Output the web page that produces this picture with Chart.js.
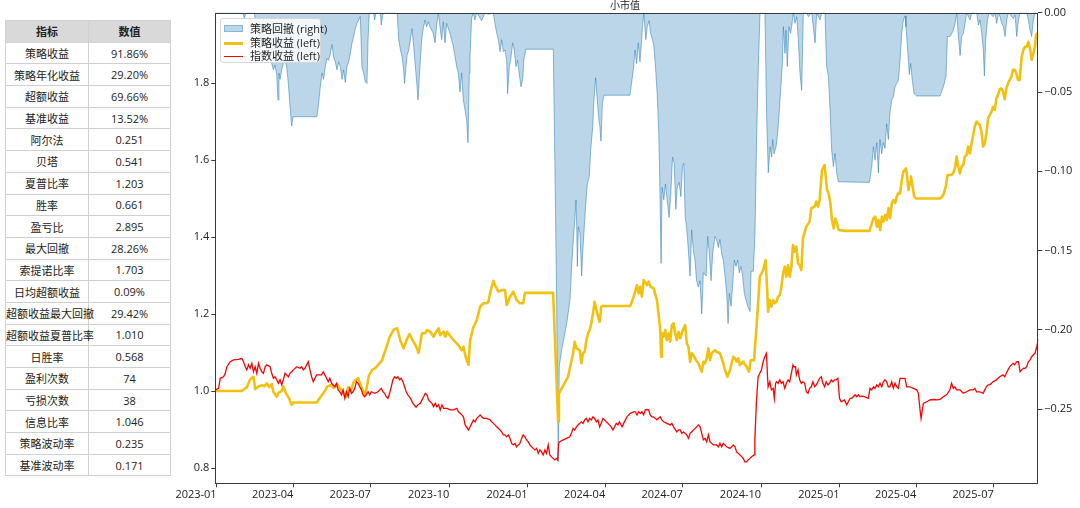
<!DOCTYPE html>
<html>
<head>
<meta charset="utf-8">
<script src="https://cdn.jsdelivr.net/npm/chart.js@4"></script>
<style>
  html, body { margin: 0; padding: 0; background: #fff; }
  body { width: 1080px; height: 508px; position: relative; overflow: hidden;
         font-family: "Open Sans", "Noto Sans CJK SC", sans-serif; color: #222; }
  #tbl { position: absolute; left: 5px; top: 20px; width: 165px; border-collapse: collapse;
         font-size: 11px; table-layout: fixed; }
  #tbl td, #tbl th { border: 1px solid #d0d0d0; height: 20.7px; padding: 0; text-align: center;
         font-weight: normal; white-space: nowrap; }
  #tbl th { background: #d9d9d9; font-weight: bold; }
  #wrap { position: absolute; left: 170px; top: 0; width: 910px; height: 508px; }
  #legend { position: absolute; left: 220px; top: 18px; width: 101px; height: 45px;
            background: rgba(255,255,255,0.8); border: 1px solid #d6d6d6; border-radius: 3px;
            font-size: 11px; box-sizing: border-box; }
  .li { position: absolute; left: 0; height: 14px; line-height: 14px; white-space: nowrap; }
  .sw { position: absolute; left: 3px; top: 3px; width: 19px; height: 7px; }
  .ln { position: absolute; left: 3px; width: 19px; }
  .tx { position: absolute; left: 29px; top: 0; }
</style>
</head>
<body>
<table id="tbl"></table>
<div id="wrap"><canvas id="c"></canvas></div>
<div id="legend"></div>
<script>
// ---------- table ----------
const tableHeader = ['指标', '数值'];
const metricNames = ['策略收益','策略年化收益','超额收益','基准收益','阿尔法','贝塔','夏普比率','胜率','盈亏比','最大回撤',
  '索提诺比率','日均超额收益','超额收益最大回撤','超额收益夏普比率','日胜率','盈利次数','亏损次数','信息比率','策略波动率','基准波动率'];
const metricValues = ['91.86%','29.20%','69.66%','13.52%','0.251','0.541','1.203','0.661','2.895','28.26%',
  '1.703','0.09%','29.42%','1.010','0.568','74','38','1.046','0.235','0.171'];

// ---------- chart data (x = calendar days since 2023-01-01) ----------
const chartTitle = '小市值';
const seriesLabels = ['策略回撤 (right)', '策略收益 (left)', '指数收益 (left)'];
const xTickLabels = ['2023-01','2023-04','2023-07','2023-10','2024-01','2024-04','2024-07','2024-10','2025-01','2025-04','2025-07'];
const leftTicks = [0.8, 1.0, 1.2, 1.4, 1.6, 1.8];
const rightTicks = [0, -0.05, -0.10, -0.15, -0.20, -0.25];

const stratDays = [-1.6,29.6,32.5,35.4,39.3,43.2,45.2,49.1,53.0,55.9,58.8,61.7,64.6,66.6,70.5,72.4,76.3,78.3,81.2,85.1,88.0,90.0,
  117.3,122.1,127.0,129.9,133.8,137.7,141.6,145.5,149.4,151.4,154.3,157.2,161.1,166.0,169.9,174.7,178.6,182.5,186.4,190.3,194.2,196.2,198.1,
  203.0,207.9,211.8,215.7,219.5,223.4,226.4,229.3,233.2,237.1,241.0,244.9,246.8,250.7,254.6,256.6,260.5,262.4,266.3,268.3,270.2,278.0,
  283.8,287.7,289.7,291.6,295.5,297.5,301.4,305.3,309.2,313.1,317.0,318.9,320.9,322.8,324.8,326.7,330.6,334.5,338.4,340.4,344.3,348.1,
  352.0,355.9,359.8,361.8,394.9,400.8,401.7,412.4,418.3,420.2,422.2,426.1,428.0,430.0,431.9,433.9,435.8,437.8,439.7,441.7,443.6,447.5,
  449.5,451.4,453.4,485.5,489.4,493.3,495.2,497.2,499.1,501.1,505.0,506.9,508.9,512.8,516.7,518.6,520.6,521.6,522.5,524.5,526.4,528.4,
  530.3,532.3,534.2,536.2,538.1,540.1,542.0,544.0,545.9,547.9,549.8,551.8,553.7,555.7,557.6,559.5,562.5,565.4,569.3,571.2,573.2,575.1,
  577.1,579.0,581.0,582.9,584.9,586.8,590.7,592.7,594.6,596.6,599.5,602.4,604.4,606.3,608.3,610.2,612.2,614.1,618.0,621.9,624.8,626.8,
  630.7,633.6,637.5,641.4,644.3,646.3,647.2,649.2,651.1,653.1,655.0,657.0,658.9,660.9,662.8,664.8,666.7,668.7,670.6,672.5,674.5,676.4,
  678.4,680.3,682.3,684.2,686.2,688.1,692.0,695.9,697.9,701.8,703.7,705.7,707.6,710.5,713.5,716.4,718.3,720.3,722.2,724.2,726.1,728.1,
  730.0,737.8,766.1,769.0,770.9,772.9,774.8,776.8,778.7,780.7,782.6,784.6,786.5,788.5,790.4,792.4,794.3,796.3,798.2,800.2,802.1,804.1,
  806.0,809.0,809.9,811.9,813.8,814.8,816.7,818.7,820.6,848.9,852.8,855.7,857.7,862.5,864.5,866.4,868.4,870.3,872.3,874.2,876.2,878.1,
  880.1,882.0,884.0,885.9,887.9,889.8,891.8,893.7,895.6,897.6,899.5,901.5,903.4,905.4,907.3,909.3,911.2,913.2,915.1,917.1,919.0,921.0,
  922.9,924.9,926.8,928.8,930.7,932.7,934.6,936.6,938.5,940.5,942.4,944.8,946.8,948.7,950.7,952.6,954.6,956.5,958.5,960.4,961.6,963.1,964.3];
const stratVals = [1.000,1.000,1.005,1.010,1.030,1.037,1.005,1.012,1.015,1.012,1.020,1.010,1.018,0.998,0.985,0.995,1.000,1.012,0.995,0.980,0.964,0.970,
  0.970,0.985,1.000,1.012,1.015,1.008,1.017,1.005,0.992,0.985,1.010,1.000,1.025,1.034,1.010,0.990,1.040,1.055,1.060,1.070,1.080,1.095,1.106,
  1.140,1.160,1.163,1.130,1.111,1.135,1.148,1.135,1.120,1.099,1.150,1.150,1.158,1.154,1.141,1.150,1.163,1.145,1.154,1.141,1.154,1.132,
  1.119,1.106,1.115,1.094,1.068,1.132,1.167,1.184,1.219,1.228,1.228,1.232,1.254,1.271,1.286,1.275,1.258,1.262,1.262,1.223,1.245,1.258,
  1.236,1.228,1.228,1.255,1.255,0.920,0.994,1.037,1.098,1.128,1.111,1.106,1.072,1.098,1.102,1.132,1.150,1.158,1.176,1.202,1.232,1.193,
  1.180,1.219,1.221,1.221,1.245,1.275,1.254,1.271,1.245,1.288,1.275,1.284,1.271,1.267,1.236,1.201,1.158,1.089,1.150,1.141,1.158,1.132,
  1.150,1.128,1.171,1.176,1.150,1.132,1.154,1.137,1.150,1.163,1.171,1.124,1.115,1.076,1.098,1.093,1.080,1.072,1.050,1.076,1.072,1.085,
  1.111,1.080,1.098,1.102,1.106,1.102,1.098,1.085,1.072,1.054,1.037,1.054,1.072,1.089,1.085,1.076,1.085,1.067,1.076,1.063,1.050,1.080,
  1.080,1.167,1.297,1.314,1.340,1.254,1.206,1.236,1.219,1.236,1.228,1.232,1.245,1.249,1.271,1.306,1.323,1.297,1.327,1.297,1.323,1.379,
  1.362,1.375,1.332,1.327,1.314,1.397,1.427,1.440,1.475,1.479,1.492,1.479,1.496,1.574,1.587,1.522,1.513,1.487,1.444,1.422,1.448,1.435,
  1.418,1.416,1.416,1.436,1.449,1.453,1.427,1.444,1.418,1.453,1.440,1.457,1.444,1.475,1.449,1.488,1.496,1.488,1.505,1.515,1.513,1.548,
  1.570,1.578,1.565,1.522,1.544,1.557,1.531,1.505,1.500,1.500,1.509,1.531,1.561,1.561,1.567,1.578,1.609,1.583,1.565,1.583,1.587,1.609,
  1.613,1.635,1.617,1.643,1.665,1.687,1.700,1.695,1.691,1.674,1.635,1.643,1.669,1.708,1.717,1.725,1.738,1.730,1.760,1.769,1.784,1.786,
  1.777,1.758,1.786,1.799,1.808,1.816,1.834,1.834,1.825,1.808,1.808,1.868,1.886,1.894,1.894,1.907,1.890,1.860,1.877,1.894,1.925,1.929,1.919];

const indexDays = [-1.6,2.3,4.2,8.1,10.1,12.0,15.9,19.8,25.7,29.6,31.5,33.5,35.4,37.4,39.3,41.3,43.2,45.2,47.1,49.1,51.0,53.0,54.9,56.9,
  58.8,62.7,64.6,66.6,68.5,70.5,72.4,74.4,76.3,78.3,80.2,82.2,84.1,86.1,88.0,90.0,93.9,97.8,99.7,101.7,103.6,107.5,109.5,111.4,113.4,
  115.3,117.3,123.1,125.1,127.0,129.0,130.9,132.8,134.8,138.7,140.6,142.6,144.5,146.5,148.4,150.4,152.3,154.3,156.2,158.2,160.1,162.1,
  164.0,166.0,167.9,169.9,171.8,173.8,177.7,179.6,181.6,185.4,189.3,193.2,195.2,197.1,199.1,201.0,203.0,206.9,208.8,210.8,212.7,214.7,
  216.6,218.6,220.5,222.5,224.4,226.4,228.3,230.3,234.0,236.1,239.0,241.0,242.9,244.9,246.8,248.8,250.7,252.7,254.6,256.6,258.5,260.5,
  262.4,264.4,266.3,270.2,274.1,278.0,281.9,283.8,285.8,287.7,289.7,291.6,295.5,297.5,299.4,301.4,303.3,305.3,307.2,309.2,311.1,313.1,
  317.0,320.9,322.8,324.8,326.7,328.7,332.6,334.5,336.5,338.4,340.4,342.3,344.3,346.2,348.1,350.1,352.0,354.0,355.9,357.9,359.8,361.8,
  363.7,365.7,367.6,369.6,371.5,373.5,375.4,377.4,379.3,381.3,383.2,385.2,387.1,389.1,391.0,393.0,394.9,396.9,398.8,400.2,401.3,402.7,
  406.6,410.5,414.4,416.3,418.3,420.2,422.2,424.1,426.1,428.0,430.0,431.9,433.9,435.8,437.8,439.7,441.7,443.6,445.6,447.5,449.5,451.4,
  453.4,455.3,457.3,459.2,463.1,465.1,467.0,469.0,470.9,472.8,475.8,477.7,479.7,481.6,483.6,485.5,489.4,491.3,493.3,495.2,497.2,499.1,
  501.1,503.0,505.0,506.9,508.9,510.8,512.8,514.7,516.7,518.6,520.6,522.5,524.5,528.4,532.3,534.2,536.2,540.1,542.0,544.0,545.9,547.9,
  549.8,551.8,553.7,555.7,557.6,559.5,561.5,563.4,565.4,567.3,569.3,571.2,573.2,575.1,577.1,579.0,581.0,582.9,586.8,588.8,590.7,592.7,
  594.6,596.6,598.5,602.4,604.4,606.3,608.3,610.2,612.2,614.1,618.0,620.0,621.9,623.8,625.8,627.7,630.7,631.6,633.6,635.5,637.5,639.4,
  641.4,643.3,645.3,646.3,647.2,649.2,651.1,653.1,654.5,656.0,657.0,658.9,660.9,662.8,664.8,666.7,668.7,670.6,672.5,674.5,676.4,677.4,
  679.4,680.3,682.3,684.2,686.2,688.1,690.1,692.0,694.0,695.9,697.9,699.8,701.8,703.7,705.7,707.6,709.6,711.5,713.5,715.4,717.4,719.3,
  721.3,723.2,725.2,727.1,729.1,731.0,733.0,736.8,739.4,741.3,743.4,745.3,747.3,749.2,751.2,753.1,755.1,757.0,760.9,764.8,766.8,768.8,
  770.8,772.7,774.7,776.6,778.5,780.5,782.4,784.4,786.3,788.3,790.2,792.3,794.2,796.2,798.1,800.1,802.0,805.9,807.9,809.8,813.7,817.7,
  821.6,823.6,825.5,826.7,829.4,833.3,837.2,841.1,845.0,848.9,852.8,856.7,860.6,862.5,864.5,866.4,868.4,872.3,876.2,880.1,884.0,887.9,
  889.8,891.8,895.6,899.5,901.5,903.4,905.4,907.3,909.3,911.2,915.1,917.1,919.0,922.9,924.9,926.8,928.8,930.7,932.7,934.6,936.6,939.0,
  941.0,942.9,944.8,946.8,948.7,950.7,952.6,954.6,956.5,958.5,960.4,962.5,964.3];
const indexVals = [1.003,1.007,1.033,1.037,1.046,1.063,1.076,1.081,1.082,1.085,1.076,1.063,1.055,1.068,1.059,1.072,1.050,1.063,1.046,1.072,1.059,1.050,1.046,1.063,
  1.068,1.063,1.046,1.033,1.037,1.029,1.020,1.029,1.016,1.029,1.046,1.042,1.037,1.046,1.050,1.055,1.063,1.059,1.063,1.055,1.059,1.076,1.055,1.037,1.024,
  1.033,1.042,1.042,1.050,1.042,1.033,1.024,1.033,1.020,1.011,1.020,1.003,0.998,0.990,1.003,0.981,0.998,0.985,1.007,0.994,0.998,1.007,
  1.024,1.020,1.011,1.003,0.990,0.985,0.998,0.990,0.998,0.994,0.998,1.007,0.998,0.994,0.985,0.981,0.994,1.029,1.037,1.033,1.037,1.029,
  1.033,1.024,1.011,0.998,0.990,0.985,0.977,0.968,0.958,0.964,0.968,0.977,0.985,0.994,0.990,0.977,0.972,0.968,0.959,0.968,0.959,0.964,
  0.951,0.964,0.955,0.955,0.951,0.951,0.955,0.946,0.942,0.938,0.933,0.912,0.899,0.907,0.916,0.925,0.920,0.929,0.933,0.938,0.933,0.929,
  0.929,0.925,0.920,0.916,0.912,0.907,0.899,0.894,0.886,0.886,0.881,0.886,0.877,0.864,0.860,0.864,0.855,0.860,0.864,0.877,0.886,0.881,
  0.873,0.868,0.860,0.855,0.851,0.847,0.851,0.838,0.847,0.842,0.834,0.847,0.838,0.860,0.834,0.829,0.825,0.821,0.825,0.821,0.864,0.868,
  0.873,0.877,0.881,0.890,0.903,0.899,0.907,0.912,0.916,0.920,0.916,0.925,0.929,0.920,0.929,0.925,0.933,0.929,0.920,0.925,0.907,0.916,
  0.929,0.925,0.920,0.916,0.907,0.899,0.907,0.916,0.912,0.920,0.907,0.916,0.925,0.933,0.938,0.942,0.946,0.946,0.938,0.946,0.942,0.946,
  0.938,0.951,0.952,0.951,0.938,0.933,0.933,0.929,0.925,0.929,0.933,0.925,0.920,0.916,0.912,0.916,0.907,0.894,0.899,0.899,0.890,0.894,
  0.890,0.886,0.877,0.890,0.894,0.899,0.903,0.907,0.912,0.907,0.890,0.873,0.877,0.868,0.886,0.868,0.864,0.860,0.860,0.855,0.864,0.855,
  0.864,0.860,0.855,0.851,0.855,0.860,0.855,0.842,0.838,0.834,0.825,0.816,0.816,0.821,0.825,0.829,0.834,0.873,0.977,1.037,1.046,1.055,
  1.076,1.089,1.098,1.046,1.011,1.024,1.003,1.007,0.981,1.020,1.024,1.020,1.029,1.020,1.024,1.007,1.020,1.029,1.024,1.046,1.068,1.063,
  1.063,1.042,1.055,1.029,1.020,1.024,1.020,0.998,0.994,1.007,1.011,1.024,1.011,1.016,1.024,1.033,1.037,1.020,1.011,1.024,1.016,1.020,
  1.029,1.024,1.029,1.029,1.033,0.981,0.972,0.977,0.964,0.972,0.981,0.981,0.985,0.990,0.985,0.990,0.985,0.987,0.985,0.981,1.007,1.003,
  1.011,1.007,1.016,1.011,1.020,1.011,1.024,1.029,1.024,1.011,1.011,1.024,1.007,1.020,1.011,1.007,1.033,1.033,1.033,1.011,1.011,1.007,
  1.003,0.994,0.951,0.929,0.968,0.972,0.977,0.978,0.977,0.978,0.985,0.990,1.003,1.020,1.007,1.011,1.003,1.003,0.994,0.998,1.003,1.003,
  1.007,0.998,0.998,0.994,1.003,1.011,1.016,1.016,1.020,1.024,1.029,1.033,1.037,1.042,1.037,1.046,1.055,1.063,1.068,1.072,1.068,1.076,
  1.076,1.050,1.055,1.059,1.059,1.063,1.076,1.081,1.089,1.094,1.098,1.115,1.135];

const ddDays = [-1.6,30.6,32.5,34.4,44.2,47.1,53.0,58.8,62.7,64.6,66.6,68.5,70.5,72.0,73.1,74.4,76.3,78.3,80.2,82.2,84.1,86.1,88.0,89.6,
  117.7,119.7,121.6,123.6,125.5,127.5,129.4,131.4,133.3,135.4,137.3,139.3,141.2,143.2,145.1,147.1,149.0,151.0,152.9,154.9,156.8,158.9,
  160.8,162.8,164.7,166.6,168.6,170.5,172.5,174.4,176.4,177.7,179.1,184.2,185.4,187.0,192.1,193.2,194.8,197.1,211.8,213.7,215.7,217.6,
  219.5,220.5,222.2,223.4,225.4,227.3,229.3,231.2,233.2,235.1,236.3,237.9,240.6,242.5,244.5,246.4,248.4,250.3,254.2,256.3,258.2,260.2,
  262.1,264.1,266.0,268.0,269.9,273.8,277.7,281.7,283.6,285.6,287.5,289.5,291.4,293.4,295.0,296.5,297.3,299.2,301.2,303.1,305.2,311.0,
  314.9,318.8,324.7,326.6,328.7,330.6,332.6,334.5,336.5,338.4,340.4,341.5,343.5,345.0,347.4,349.3,351.3,353.2,355.2,357.2,359.2,360.7,
  363.0,395.1,397.0,399.0,400.9,402.1,404.8,410.8,414.7,416.6,418.6,420.5,421.7,422.6,423.3,424.5,426.4,428.4,429.5,431.0,433.0,435.0,
  437.4,438.9,441.3,442.8,444.8,446.7,448.7,449.8,451.1,452.7,454.6,485.1,489.0,491.0,492.9,494.8,496.8,498.8,499.7,501.3,503.7,505.3,
  507.6,509.2,511.5,513.1,515.0,517.0,518.9,520.1,521.6,522.8,524.8,526.7,528.7,531.0,533.0,535.0,537.0,538.9,540.5,542.8,544.8,546.7,
  548.3,549.9,551.5,553.4,555.6,557.5,559.5,561.4,563.3,565.3,567.3,569.3,571.2,574.4,576.3,578.3,580.2,582.1,584.9,586.8,588.8,590.7,
  592.7,594.6,596.6,598.6,600.2,601.7,603.7,605.6,607.6,609.5,611.5,613.4,615.4,617.3,619.3,621.2,623.3,626.0,627.2,629.9,631.8,633.8,
  635.7,637.7,643.5,645.5,647.4,649.5,651.4,652.6,654.1,656.5,658.4,660.4,661.9,663.9,665.1,667.0,668.2,669.7,671.7,673.6,675.7,676.8,
  678.7,680.7,682.7,684.6,686.6,688.5,692.4,694.4,698.4,702.3,704.2,708.1,710.1,714.0,715.9,717.9,719.9,721.8,723.8,725.7,727.7,729.6,
  766.1,768.8,770.8,772.7,774.7,776.6,778.5,780.5,782.4,784.4,786.3,788.3,790.2,792.3,794.2,796.2,798.1,800.1,802.0,804.0,805.9,807.9,
  809.0,811.0,812.9,814.5,816.4,818.5,821.6,849.0,852.9,856.0,857.6,860.7,864.6,866.6,868.6,870.5,872.5,874.4,876.4,878.3,880.3,884.2,
  886.1,892.0,894.0,895.9,897.9,899.8,901.0,902.6,904.5,906.5,911.5,913.5,915.5,917.5,919.4,921.4,923.3,925.3,927.2,929.2,935.0,937.0,
  939.0,941.0,942.9,950.7,952.6,954.6,956.5,958.5,960.4,964.3];
const ddVals = [0,0,-0.0036,0,0,-0.011,-0.017,-0.0235,-0.028,-0.032,-0.036,-0.033,-0.039,-0.055,-0.038,-0.042,-0.036,-0.032,-0.030,-0.034,-0.0446,-0.059,-0.0715,-0.0656,
  -0.0656,-0.057,-0.047,-0.038,-0.042,-0.034,-0.029,-0.030,-0.026,-0.020,-0.028,-0.031,-0.036,-0.031,-0.034,-0.042,-0.036,-0.044,-0.034,-0.031,-0.026,-0.019,
  -0.015,-0.010,-0.0067,-0.0046,-0.0025,-0.034,-0.038,-0.0435,-0.0446,-0.017,0,0,-0.0046,0,0,-0.0078,-0.0015,0,0,-0.017,-0.0235,-0.028,
  -0.036,-0.0446,-0.034,-0.027,-0.0235,-0.017,-0.010,-0.021,-0.034,-0.0456,-0.055,-0.040,-0.017,-0.010,-0.0046,-0.0088,-0.0057,-0.0088,-0.013,-0.019,-0.0078,0,
  -0.0088,-0.017,-0.0057,-0.019,-0.0067,-0.013,-0.021,-0.034,-0.038,-0.050,-0.038,-0.055,-0.061,-0.068,-0.082,-0.038,-0.028,-0.0036,0,-0.0046,0,-0.005,
  0,-0.001,0,-0.0067,-0.013,-0.017,-0.0246,-0.017,-0.0246,-0.0235,-0.030,-0.051,-0.034,-0.030,-0.019,-0.0235,-0.034,-0.030,-0.039,-0.0467,-0.042,-0.029,
  -0.023,-0.023,-0.097,-0.181,-0.283,-0.223,-0.213,-0.196,-0.181,-0.160,-0.143,-0.129,-0.118,-0.135,-0.160,-0.135,-0.139,-0.166,-0.152,-0.139,-0.122,-0.108,
  -0.103,-0.087,-0.072,-0.055,-0.041,-0.055,-0.068,-0.072,-0.081,-0.057,-0.052,-0.052,-0.036,-0.0235,-0.032,-0.019,-0.031,-0.017,-0.0088,0,-0.017,-0.0088,
  -0.005,-0.013,-0.017,-0.021,-0.034,-0.051,-0.076,-0.108,-0.158,-0.110,-0.118,-0.108,-0.118,-0.129,-0.114,-0.091,-0.095,-0.124,-0.110,-0.107,-0.116,-0.097,
  -0.095,-0.129,-0.135,-0.148,-0.166,-0.137,-0.150,-0.156,-0.169,-0.173,-0.169,-0.190,-0.164,-0.166,-0.141,-0.152,-0.169,-0.152,-0.141,-0.143,-0.148,-0.143,
  -0.152,-0.156,-0.166,-0.177,-0.196,-0.177,-0.185,-0.171,-0.156,-0.160,-0.156,-0.164,-0.160,-0.166,-0.177,-0.181,-0.185,-0.1885,-0.163,-0.163,-0.139,-0.076,
  -0.034,0,0,-0.066,-0.101,-0.0845,-0.091,-0.080,-0.089,-0.0845,-0.076,-0.061,-0.049,-0.032,-0.0088,-0.0256,-0.011,-0.034,-0.0088,-0.013,-0.005,0,
  -0.0067,-0.0025,-0.017,-0.038,-0.049,0,0,-0.0025,0,-0.019,0,-0.0046,0,0,-0.034,-0.040,-0.061,-0.0866,-0.097,-0.0887,-0.101,-0.1066,
  -0.107,-0.097,-0.0845,-0.093,-0.082,-0.101,-0.080,-0.089,-0.082,-0.0855,-0.070,-0.080,-0.063,-0.055,-0.053,-0.0467,-0.0446,-0.0425,-0.030,-0.013,-0.0046,-0.002,
  -0.0088,-0.0235,-0.039,-0.032,-0.0425,-0.051,-0.0525,-0.0525,-0.0467,-0.040,-0.015,-0.015,-0.011,-0.0067,0,-0.015,-0.027,-0.015,-0.013,-0.0067,0,-0.0046,
  0,0,-0.0078,-0.0046,-0.013,-0.0235,-0.040,-0.017,-0.005,0,-0.0025,0,-0.0067,0,-0.0025,-0.0067,-0.0088,-0.015,-0.0046,0,-0.0036,-0.0015,
  -0.015,-0.0046,0,0,-0.0046,-0.011,-0.015,-0.0046,0,0];

// ---------- build table ----------
(function(){
  const t = document.getElementById('tbl');
  let h = '<colgroup><col style="width:83px"><col style="width:82px"></colgroup>';
  h += '<tr><th>' + tableHeader[0] + '</th><th>' + tableHeader[1] + '</th></tr>';
  for (let i = 0; i < metricNames.length; i++) h += '<tr><td>' + metricNames[i] + '</td><td>' + metricValues[i] + '</td></tr>';
  t.innerHTML = h;
})();

// ---------- colours ----------
const C_FILL = 'rgba(31,119,180,0.3)';
const C_EDGE = 'rgba(31,119,180,0.5)';
const C_STRAT = '#f2c10f';
const C_INDEX = '#ff0000';

// ---------- legend (HTML) ----------
(function(){
  const lg = document.getElementById('legend');
  lg.innerHTML =
    '<div class="li" style="top:3px"><div class="sw" style="background:' + C_FILL + ';border:1px solid rgba(31,119,180,0.35);box-sizing:border-box"></div><div class="tx">' + seriesLabels[0] + '</div></div>' +
    '<div class="li" style="top:17px"><div class="ln" style="top:6px;height:2.5px;background:' + C_STRAT + '"></div><div class="tx">' + seriesLabels[1] + '</div></div>' +
    '<div class="li" style="top:30px"><div class="ln" style="top:6.5px;height:1.5px;background:' + C_INDEX + '"></div><div class="tx">' + seriesLabels[2] + '</div></div>';
})();

const BASE = Date.UTC(2023, 0, 1);
const tickDay = lbl => { const [y, m] = lbl.split('-').map(Number); return (Date.UTC(y, m - 1, 1) - BASE) / 86400000; };
const xTickValues = xTickLabels.map(tickDay);
const pts = (xs, ys) => xs.map((x, i) => ({ x: x, y: ys[i] }));

const FONT = { family: "'Open Sans','Noto Sans CJK SC',sans-serif", size: 11 };

const framePlugin = {
  id: 'frame',
  afterDraw(chart) {
    const a = chart.chartArea, ctx = chart.ctx;
    ctx.save();
    ctx.strokeStyle = '#3a3a3a';
    ctx.lineWidth = 1;
    ctx.strokeRect(Math.round(a.left) + 0.5, Math.round(a.top) + 0.5, Math.round(a.right - a.left) - 1, Math.round(a.bottom - a.top) - 1);
    ctx.restore();
  }
};

new Chart(document.getElementById('c'), {
  type: 'line',
  data: {
    datasets: [
      { label: seriesLabels[2], data: pts(indexDays, indexVals), yAxisID: 'y', borderColor: C_INDEX, borderWidth: 1.3,
        pointRadius: 0, tension: 0, fill: false, order: 0 },
      { label: seriesLabels[1], data: pts(stratDays, stratVals), yAxisID: 'y', borderColor: C_STRAT, borderWidth: 2.6,
        pointRadius: 0, tension: 0, fill: false, order: 1, borderJoinStyle: 'round' },
      { label: seriesLabels[0], data: pts(ddDays, ddVals), yAxisID: 'y1', borderColor: C_EDGE, backgroundColor: C_FILL,
        borderWidth: 1, pointRadius: 0, tension: 0, fill: { value: 0 }, order: 2 }
    ]
  },
  options: {
    responsive: true,
    maintainAspectRatio: false,
    animation: false,
    events: [],
    layout: { padding: 0 },
    plugins: {
      legend: { display: false },
      tooltip: { enabled: false },
      title: { display: true, text: chartTitle, color: '#222', padding: { top: 0, bottom: 0 },
               font: { family: FONT.family, size: 10, weight: 'normal', lineHeight: 1.27 } }
    },
    scales: {
      x: {
        type: 'linear', min: -1.6, max: 964.3,
        afterBuildTicks: s => { s.ticks = xTickValues.map(v => ({ value: v })); },
        afterFit: s => { s.height = 24.7; },
        ticks: { callback: (v) => { const i = xTickValues.indexOf(v); return i >= 0 ? xTickLabels[i] : ''; },
                 align: 'end', maxRotation: 0, minRotation: 0, autoSkip: false, padding: 1, color: '#222', font: FONT },
        grid: { drawOnChartArea: false, drawTicks: true, tickLength: 4, color: '#3a3a3a' },
        border: { display: false }
      },
      y: {
        position: 'left', min: 0.7603, max: 1.9826,
        afterBuildTicks: s => { s.ticks = leftTicks.map(v => ({ value: v })); },
        afterFit: s => { s.width = 45.3; },
        ticks: { callback: v => Number(v).toFixed(1), padding: 2, color: '#222', font: FONT },
        grid: { drawOnChartArea: false, drawTicks: true, tickLength: 4, color: '#3a3a3a' },
        border: { display: false }
      },
      y1: {
        position: 'right', min: -0.2967, max: 0,
        afterBuildTicks: s => { s.ticks = rightTicks.map(v => ({ value: v })); },
        afterFit: s => { s.width = 41.7; },
        ticks: { callback: v => Number(v).toFixed(2).replace('-', '\u2212'), padding: 2, color: '#222', font: FONT },
        grid: { drawOnChartArea: false, drawTicks: true, tickLength: 4, color: '#3a3a3a' },
        border: { display: false }
      }
    }
  },
  plugins: [framePlugin]
});
</script>
</body>
</html>
